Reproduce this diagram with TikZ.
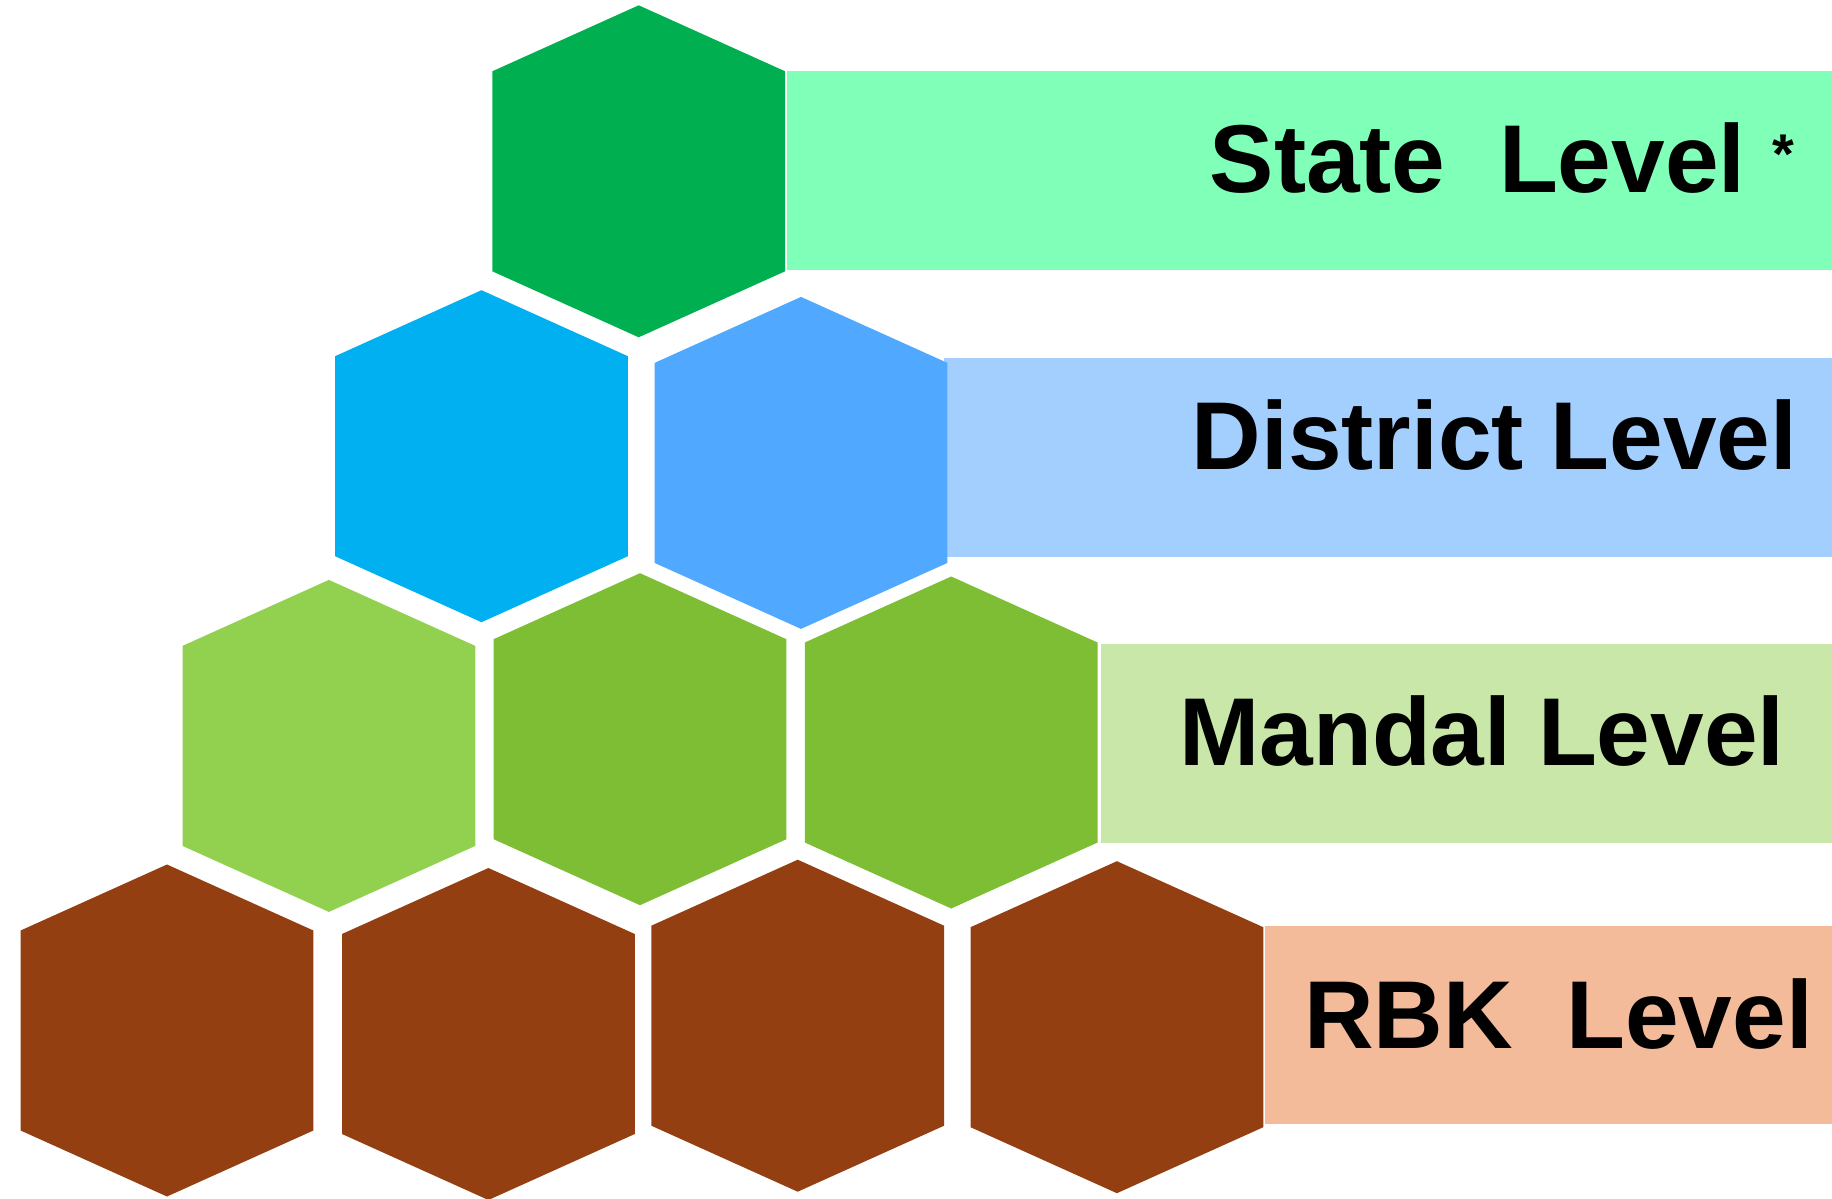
\documentclass[tikz,border=0pt]{standalone}
\usepackage{fontspec}
\setmainfont{Liberation Sans}
\usetikzlibrary{positioning}
\usepackage{xcolor}

\definecolor{statehex}{HTML}{00B050}
\definecolor{stateband}{HTML}{80FFB8}
\definecolor{districthexa}{HTML}{00B0F0}
\definecolor{districthexb}{HTML}{50A8FF}
\definecolor{districtband}{HTML}{A3CFFF}
\definecolor{mandalhexa}{HTML}{92D050}
\definecolor{mandalhexb}{HTML}{7DBE35}
\definecolor{mandalband}{HTML}{C9E7A8}
\definecolor{rbkhex}{HTML}{933F12}
\definecolor{rbkband}{HTML}{F4BB9A}

% one hexagon cell, centred at (#2,#3)
\newcommand{\hexcell}[4]{%
    \fill[#4] (#2,#3) ++(0,-166) -- ++(146.4,66) -- ++(0,200)
        -- ++(-146.4,66) -- ++(-146.4,-66) -- ++(0,-200) -- cycle;
    \coordinate (#1) at (#2,#3);
}

\begin{document}
\begin{tikzpicture}[x=1pt, y=-1pt,
    band/.style={
        rectangle,
        inner sep=0pt,
        anchor=north west,
        minimum height=198.7pt
    },
    leveltext/.style={
        inner sep=0pt,
        anchor=base west,
        font=\bfseries\fontsize{96.4}{116}\selectfont
    }
]
    \useasboundingbox (0,0) rectangle (1832,1199);

    %bands
    \node (state_band) [band, fill=stateband, minimum width=1045pt] at (787,71) {};
    \node (district_band) [band, fill=districtband, minimum width=888pt] at (944,358) {};
    \node (mandal_band) [band, fill=mandalband, minimum width=731pt] at (1101,644) {};
    \node (rbk_band) [band, fill=rbkband, minimum width=567.5pt] at (1264.5,925.3) {};

    %state
    \hexcell{state_hex}{638.7}{171.3}{statehex}

    %district
    \hexcell{district_hex_a}{481.5}{456.2}{districthexa}
    \hexcell{district_hex_b}{801}{462.9}{districthexb}

    %mandal
    \hexcell{mandal_hex_a}{328.9}{745.9}{mandalhexa}
    \hexcell{mandal_hex_b}{640}{739.2}{mandalhexb}
    \hexcell{mandal_hex_c}{951.2}{742.5}{mandalhexb}

    %rbk
    \hexcell{rbk_hex_a}{167}{1030.5}{rbkhex}
    \hexcell{rbk_hex_b}{488.4}{1034}{rbkhex}
    \hexcell{rbk_hex_c}{797.7}{1025.7}{rbkhex}
    \hexcell{rbk_hex_d}{1116.9}{1027.2}{rbkhex}

    %labels
    \node (state_text) [leveltext] at (1209.6,192.7)
    {
        State\ \ Level {\fontsize{56}{60}\selectfont\raisebox{19pt}{*}}
    };
    \node (district_text) [leveltext] at (1191.6,469.3)
    {
        District Level
    };
    \node (mandal_text) [leveltext] at (1179,765.7)
    {
        Mandal Level
    };
    \node (rbk_text) [leveltext] at (1303.8,1048.7)
    {
        RBK\ \ Level
    };

\end{tikzpicture}
\end{document}
